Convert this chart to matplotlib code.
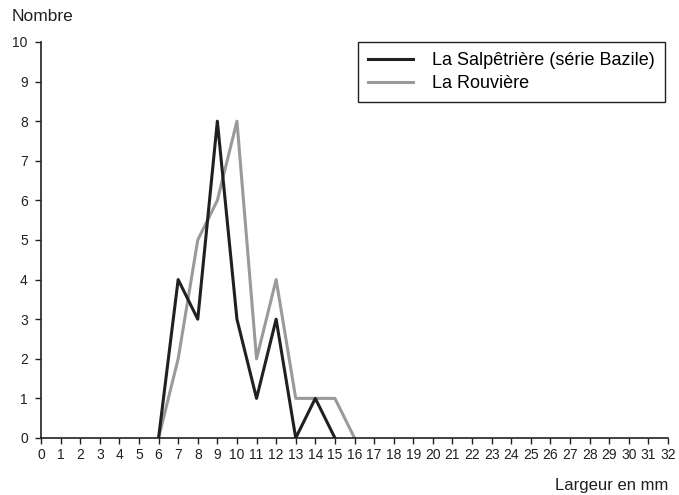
import matplotlib
matplotlib.use('Agg')
import matplotlib.pyplot as plt

plt.rcParams['font.family'] = ['Liberation Sans', 'DejaVu Sans']

# Largeur en mm
x_salp = [6, 7, 8, 9, 10, 11, 12, 13, 14, 15]
y_salp = [0, 4, 3, 8, 3, 1, 3, 0, 1, 0]
x_rouv = [6, 7, 8, 9, 10, 11, 12, 13, 14, 15, 16]
y_rouv = [0, 2, 5, 6, 8, 2, 4, 1, 1, 1, 0]
labels = ['La Salpêtrière (série Bazile)', 'La Rouvière']

fig = plt.figure(figsize=(6.79, 4.95), dpi=100)
ax = fig.add_axes([0.0604, 0.1152, 0.9234, 0.8])

ax.plot(x_rouv, y_rouv, color='#9a9a9a', linewidth=2.2, label=labels[1], zorder=2)
ax.plot(x_salp, y_salp, color='#231f20', linewidth=2.2, label=labels[0], zorder=3)

ax.set_xlim(0, 32)
ax.set_ylim(0, 10)
ax.set_xticks(range(0, 33))
ax.set_yticks(range(0, 11))
ax.tick_params(direction='out', length=4.5, width=1, labelsize=10, colors='#231f20')
ax.tick_params(axis='x', pad=3)
ax.tick_params(axis='y', pad=5)
for s in ['top', 'right']:
    ax.spines[s].set_visible(False)
for s in ['left', 'bottom']:
    ax.spines[s].set_color('#231f20')
    ax.spines[s].set_linewidth(1.2)

h, l = ax.get_legend_handles_labels()
leg = ax.legend(h[::-1], l[::-1], loc='upper right',
                bbox_to_anchor=(665 / 679, 1 - 42 / 495), bbox_transform=fig.transFigure,
                borderaxespad=0, fontsize=13, frameon=True, fancybox=False,
                handlelength=2.5, handletextpad=1.05, borderpad=0.55, labelspacing=0.35)
leg.get_frame().set_edgecolor('#231f20')
leg.get_frame().set_linewidth(1)
leg.get_frame().set_alpha(1)

fig.text(0.017, 0.957, 'Nombre', fontsize=12.5, color='#231f20')
fig.text(0.984, 0.011, 'Largeur en mm', fontsize=12, color='#231f20', ha='right')

fig.savefig('out.png', dpi=100)
